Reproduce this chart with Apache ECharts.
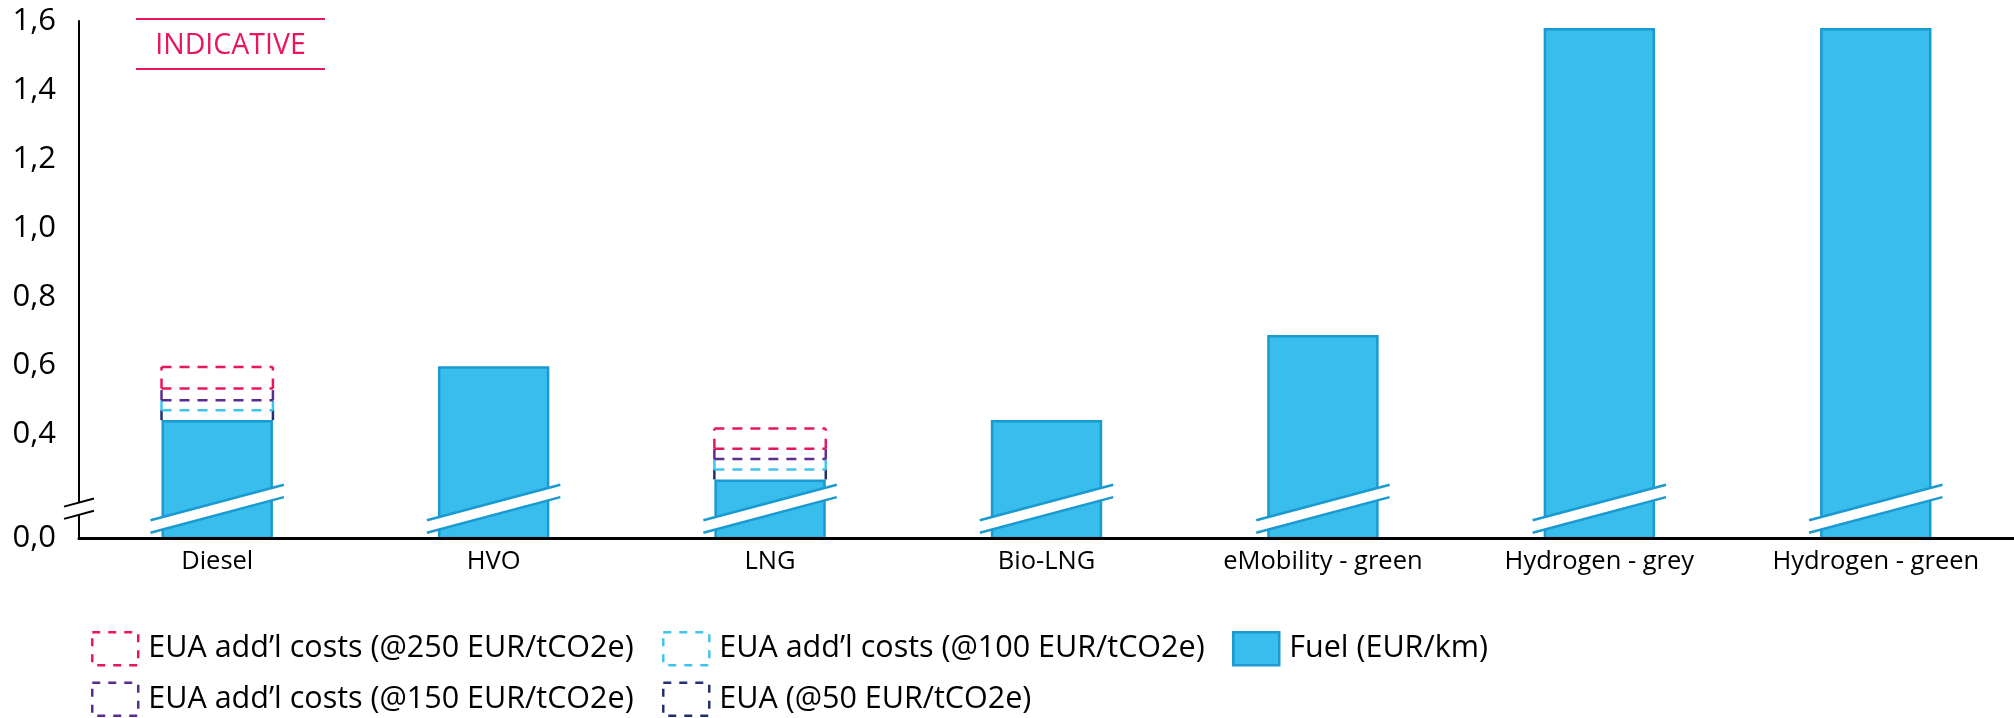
<!DOCTYPE html>
<html>
<head>
<meta charset="utf-8">
<script src="https://cdn.jsdelivr.net/npm/echarts@6/dist/echarts.min.js"></script>
<style>
html,body{margin:0;padding:0;background:#fff;}
#chart{width:2014px;height:718px;}
</style>
</head>
<body>
<div id="chart"></div>
<script>
// ---------------- data ----------------
const categories = ['Diesel', 'HVO', 'LNG', 'Bio-LNG', 'eMobility - green', 'Hydrogen - grey', 'Hydrogen - green'];
const fuel    = [0.442, 0.598, 0.270, 0.442, 0.689, 1.580, 1.580];
const eua50   = [0.029, null, 0.029, null, null, null, null];
const eua100  = [0.029, null, 0.030, null, null, null, null];
const eua150  = [0.034, null, 0.030, null, null, null, null];
const eua250  = [0.062, null, 0.059, null, null, null, null];
// broken value axis: the baseline sits at AXIS_BASE in the linear scale and is labelled 0,0
const AXIS_BASE = 0.1;
const AXIS_MAX = 1.6;
const BREAK_VALUE = 0.185;
const yTickValues = [0.1, 0.4, 0.6, 0.8, 1.0, 1.2, 1.4, 1.6];
const yTickLabels = ['0,0', '0,4', '0,6', '0,8', '1,0', '1,2', '1,4', '1,6'];
const names = {
  fuel: 'Fuel (EUR/km)',
  e50: 'EUA (@50 EUR/tCO2e)',
  e100: 'EUA add\u2019l costs (@100 EUR/tCO2e)',
  e150: 'EUA add\u2019l costs (@150 EUR/tCO2e)',
  e250: 'EUA add\u2019l costs (@250 EUR/tCO2e)'
};
const badgeText = 'INDICATIVE';

// ---------------- styles ----------------
const FONT = '"Open Sans", "Noto Sans", sans-serif';
const C = {
  fuel: '#38BDEC', fuelBorder: '#1A9AD0',
  e50: '#22306E', e100: '#3EC4EF', e150: '#5A2D91', e250: '#E8175D',
  text: '#000000', pink: '#E8175D'
};
const BAR_RATIO = 0.403;
const DASH = [10, 8];

// stacked box data built from the arrays
const incs = [eua50, eua100, eua150, eua250];
function boxData(k) {
  const out = [];
  categories.forEach((c, i) => {
    if (incs[k][i] == null) return;
    let base = fuel[i];
    for (let j = 0; j < k; j++) base += incs[j][i] || 0;
    out.push([i, base, base + incs[k][i]]);
  });
  return out;
}

function boxRenderer(color, drawBottom, drawTop) {
  return function (params, api) {
    const i = api.value(0);
    const b = api.coord([i, api.value(1)]);
    const t = api.coord([i, api.value(2)]);
    const w = api.size([1, 0])[0] * BAR_RATIO;
    const xl = b[0] - w / 2, xr = b[0] + w / 2;
    const st = { stroke: color, lineWidth: 2.5, lineDash: DASH, fill: null };
    const ch = [
      { type: 'line', shape: { x1: xl, y1: b[1], x2: xl, y2: t[1] }, style: st },
      { type: 'line', shape: { x1: xr, y1: b[1], x2: xr, y2: t[1] }, style: st }
    ];
    if (drawBottom) ch.push({ type: 'line', shape: { x1: xl, y1: b[1], x2: xr, y2: b[1] }, style: st });
    if (drawTop) ch.push({ type: 'line', shape: { x1: xl, y1: t[1], x2: xr, y2: t[1] }, style: st });
    return { type: 'group', children: ch };
  };
}

function slashGroup(cx, cy, half, sep, slope, lineColor, lw) {
  const rise = half * slope;
  const ul = [cx - half, cy - sep + rise], ur = [cx + half, cy - sep - rise];
  const ll = [cx - half, cy + sep + rise], lr = [cx + half, cy + sep - rise];
  return [
    { type: 'polygon', shape: { points: [ul, ur, lr, ll] }, style: { fill: '#ffffff', stroke: null } },
    { type: 'line', shape: { x1: ul[0], y1: ul[1], x2: ur[0], y2: ur[1] }, style: { stroke: lineColor, lineWidth: lw } },
    { type: 'line', shape: { x1: ll[0], y1: ll[1], x2: lr[0], y2: lr[1] }, style: { stroke: lineColor, lineWidth: lw } }
  ];
}

function breakRenderer(params, api) {
  const i = api.value(0);
  const p = api.coord([i, api.value(1)]);
  const w = api.size([1, 0])[0] * BAR_RATIO;
  let ch = slashGroup(p[0], p[1], w / 2 + 11, 6.2, 0.2664, C.fuelBorder, 2.5);
  if (i === 0) {
    ch = ch.concat(slashGroup(params.coordSys.x, p[1], 15, 6.1, 0.27, '#000000', 2));
  }
  return { type: 'group', children: ch };
}

function legendItem(key, dashed) {
  return {
    name: names[key], icon: 'rect',
    itemStyle: dashed
      ? { color: 'rgba(0,0,0,0)', borderColor: C[key], borderWidth: 2.5, borderType: [8, 8] }
      : { color: C.fuel, borderColor: C.fuelBorder, borderWidth: 2.5 }
  };
}
const legendCommon = {
  orient: 'vertical', top: 631, padding: 0, itemWidth: 46, itemHeight: 33, itemGap: 15,
  selectedMode: false,
  textStyle: { fontFamily: FONT, fontSize: 30.5, color: C.text, padding: [0, 0, 0, 5] }
};

const chart = echarts.init(document.getElementById('chart'), null, { renderer: 'canvas' });
chart.setOption({
  animation: false,
  backgroundColor: '#ffffff',
  grid: { left: 79, right: -16, top: 21, bottom: 180, containLabel: false },
  xAxis: {
    type: 'category', data: categories, z: 10,
    axisLine: { lineStyle: { color: '#000', width: 3 } },
    axisTick: { show: false },
    axisLabel: { fontFamily: FONT, fontSize: 25.5, color: C.text, margin: 11, interval: 0 }
  },
  yAxis: {
    type: 'value', min: AXIS_BASE, max: AXIS_MAX,
    axisLine: { show: true, lineStyle: { color: '#000', width: 2 } },
    axisTick: { show: false },
    splitLine: { show: false },
    axisLabel: {
      customValues: yTickValues,
      fontFamily: FONT, fontSize: 31, color: C.text, margin: 23,
      formatter: function (v) {
        const k = yTickValues.findIndex(t => Math.abs(t - v) < 1e-6);
        return k >= 0 ? yTickLabels[k] : '';
      }
    }
  },
  legend: [
    Object.assign({}, legendCommon, { left: 91, data: [legendItem('e250', true), legendItem('e150', true)] }),
    Object.assign({}, legendCommon, { left: 662, data: [legendItem('e100', true), legendItem('e50', true)] }),
    Object.assign({}, legendCommon, { left: 1232, data: [legendItem('fuel', false)] })
  ],
  graphic: [
    { type: 'line', shape: { x1: 136, y1: 19, x2: 325, y2: 19 }, style: { stroke: C.pink, lineWidth: 2 } },
    { type: 'line', shape: { x1: 136, y1: 69, x2: 325, y2: 69 }, style: { stroke: C.pink, lineWidth: 2 } },
    { type: 'text', x: 230.5, y: 46, style: { text: badgeText, fill: C.pink, fontFamily: FONT, fontSize: 28.5, align: 'center', verticalAlign: 'middle' } }
  ],
  series: [
    {
      type: 'bar', name: names.fuel, data: fuel, barWidth: (BAR_RATIO * 100) + '%', clip: true, z: 2,
      itemStyle: { color: C.fuel, borderColor: C.fuelBorder, borderWidth: 2.5 }
    },
    { type: 'custom', name: names.e50, data: boxData(0), encode: { x: 0, y: [1, 2] }, itemStyle: { color: C.e50 }, renderItem: boxRenderer(C.e50, false, false), z: 3 },
    { type: 'custom', name: names.e100, data: boxData(1), encode: { x: 0, y: [1, 2] }, itemStyle: { color: C.e100 }, renderItem: boxRenderer(C.e100, true, false), z: 3 },
    { type: 'custom', name: names.e150, data: boxData(2), encode: { x: 0, y: [1, 2] }, itemStyle: { color: C.e150 }, renderItem: boxRenderer(C.e150, true, false), z: 3 },
    { type: 'custom', name: names.e250, data: boxData(3), encode: { x: 0, y: [1, 2] }, itemStyle: { color: C.e250 }, renderItem: boxRenderer(C.e250, true, true), z: 3 },
    {
      type: 'custom', name: 'axis-break', silent: true, z: 4,
      data: categories.map((c, i) => [i, BREAK_VALUE]), encode: { x: 0, y: 1 },
      renderItem: breakRenderer
    }
  ]
});
</script>
</body>
</html>
